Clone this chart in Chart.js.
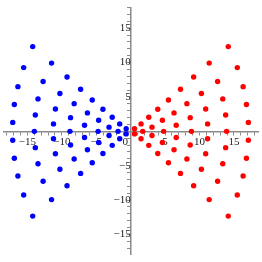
<!DOCTYPE html>
<html>
<head>
<meta charset="utf-8">
<script src="https://cdn.jsdelivr.net/npm/chart.js@4"></script>
<style>
  html, body { margin: 0; padding: 0; background: #fff; }
</style>
</head>
<body>
<canvas id="plot" width="262" height="262"></canvas>
<script>
// red points (right side): upper rows, points on the axis, lower rows
const redX = [
  0.56, 1.51, 2.63, 3.94, 5.49, 7.24, 9.15, 11.41, 14.18,
  3.10, 4.61, 6.30, 8.17, 10.28, 12.63, 15.49,
  6.62, 8.65, 10.90, 13.38, 16.34,
  11.18, 13.80, 16.82,
  17.10,
  1.75, 4.79, 8.83, 13.94,
  0.56, 1.51, 2.63, 3.94, 5.49, 7.24, 9.15, 11.41, 14.18,
  3.10, 4.61, 6.30, 8.17, 10.28, 12.63, 15.49,
  6.62, 8.65, 10.90, 13.38, 16.34,
  11.18, 13.80, 16.82,
  17.10
];
const redY = [
  0.37, 1.08, 2.04, 3.22, 4.56, 6.12, 7.91, 9.93, 12.33,
  0.61, 1.62, 2.68, 4.03, 5.51, 7.25, 9.27,
  0.89, 1.99, 3.26, 4.72, 6.50,
  1.08, 2.37, 3.91,
  1.30,
  0, 0, 0, 0,
  -0.37, -1.08, -2.04, -3.22, -4.56, -6.12, -7.91, -9.93, -12.33,
  -0.61, -1.62, -2.68, -4.03, -5.51, -7.25, -9.27,
  -0.89, -1.99, -3.26, -4.72, -6.50,
  -1.08, -2.37, -3.91,
  -1.30
];

// blue points (left side)
const blueX = [
  -0.65, -1.59, -2.68, -4.03, -5.58, -7.27, -9.24, -11.49, -14.23,
  -3.14, -4.65, -6.28, -8.21, -10.28, -12.72, -15.54,
  -6.70, -8.73, -10.93, -13.46, -16.38,
  -11.21, -13.85, -16.90,
  -17.13,
  -1.83, -4.73, -8.82, -13.99,
  -0.65, -1.59, -2.68, -4.03, -5.58, -7.27, -9.24, -11.49, -14.23,
  -3.14, -4.65, -6.28, -8.21, -10.28, -12.72, -15.54,
  -6.70, -8.73, -10.93, -13.46, -16.38,
  -11.21, -13.85, -16.90,
  -17.13
];
const blueY = redY.slice();

const xTicks = [-15, -10, -5, 0, 5, 10, 15];
const yTicks = [-15, -10, -5, 5, 10, 15];

function toPoints(xs, ys) {
  return xs.map((x, i) => ({ x: x, y: ys[i] }));
}

function fmt(v) {
  return v < 0 ? '\u2212' + Math.abs(v) : String(v);
}

const axisColor = '#8a8a8a';
const labelFont = { family: 'Liberation Serif', size: 11 };

new Chart(document.getElementById('plot').getContext('2d'), {
  type: 'scatter',
  data: {
    datasets: [
      {
        data: toPoints(blueX, blueY),
        backgroundColor: '#0000ff',
        borderWidth: 0,
        pointRadius: 2.7
      },
      {
        data: toPoints(redX, redY),
        backgroundColor: '#ff0000',
        borderWidth: 0,
        pointRadius: 2.7
      }
    ]
  },
  options: {
    responsive: false,
    animation: false,
    devicePixelRatio: 1,
    layout: { padding: { top: 3, bottom: 4, left: 0, right: 0 } },
    plugins: {
      legend: { display: false },
      tooltip: { enabled: false }
    },
    scales: {
      x: {
        type: 'linear',
        position: { y: 0 },
        min: -18.4,
        max: 18.5,
        border: { display: true, color: axisColor, width: 1.5 },
        grid: { drawOnChartArea: false, drawTicks: true, tickLength: 3, color: axisColor },
        ticks: {
          stepSize: 1,
          autoSkip: false,
          includeBounds: false,
          maxRotation: 0,
          padding: 1,
          color: '#222',
          font: labelFont,
          callback: v => xTicks.includes(v) ? (v === 0 ? '0    ' : fmt(v)) : ''
        }
      },
      y: {
        type: 'linear',
        position: { x: 0 },
        min: -17.9,
        max: 18.0,
        border: { display: true, color: axisColor, width: 1.5 },
        grid: { drawOnChartArea: false, drawTicks: true, tickLength: 3, color: axisColor },
        ticks: {
          stepSize: 1,
          autoSkip: false,
          includeBounds: false,
          padding: 1,
          color: '#222',
          font: labelFont,
          callback: v => yTicks.includes(v) ? fmt(v) : ''
        }
      }
    }
  }
});
</script>
</body>
</html>
